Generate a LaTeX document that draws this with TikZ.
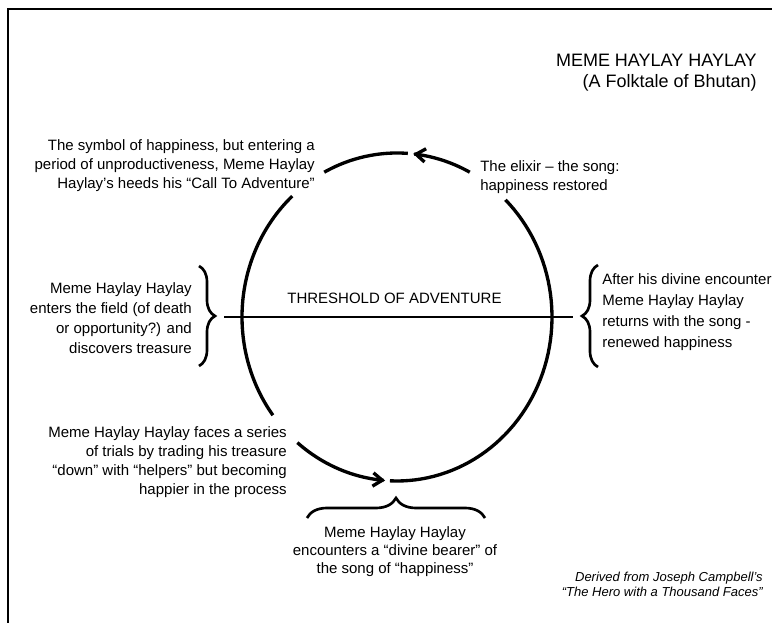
\documentclass[tikz,border=0pt]{standalone}
\usepackage{fontspec}
\setmainfont{Liberation Sans}
\usetikzlibrary{arrows.meta,decorations.pathreplacing}
\def\ringarc[#1](#2:#3){\draw[#1] plot[domain=#2:#3, samples=60] ({397+155*cos(\x)},{317+164*sin(\x)});}

\begin{document}
\begin{tikzpicture}[x=0.75pt, y=-0.75pt,
	txt/.style={inner sep=0pt, font=\fontsize{11.25}{14.4}\selectfont},
	ring/.style={line width=2.5pt},
	barb/.style={ring, {Straight Barb[length=7pt,width=10pt]}-},
	bracket/.style={line width=2pt, decorate, decoration={brace, amplitude=#1}}]
		%%%%% START %%%%%
		
		\useasboundingbox (0,0) rectangle (772,623);
		\clip (0,0) rectangle (772,623);
		\draw[line width=1.4pt] (8,9) rectangle (800,660);
		
		\node[txt, font=\fontsize{13.5}{15.75}\selectfont, align=right, anchor=north east] (title) at (757,54) {MEME HAYLAY HAYLAY\\(A Folktale of Bhutan)};
		
		% the round of the adventure
		\ringarc[ring](-45.6:92.6)
		\ringarc[barb](-84:-62)
		\ringarc[ring](-118:-86)
		\ringarc[ring](143.2:227.5)
		\ringarc[barb](94.4:130)
		
		\coordinate (thL) at (224,317);
		\coordinate (thR) at (573,317);
		\draw[line width=2pt] (thL) -- (thR);
		\node[txt] (threshold) at (394.5,298) {THRESHOLD OF ADVENTURE};
		
		\draw[bracket=12pt] (199,266) -- (199,366);
		\draw[bracket=12pt] (598,367) -- (598,265);
		\draw[bracket=15pt] (307,518) -- (485,518);
		
		\node[txt, align=right, anchor=north east] (call) at (315,139) {The symbol of happiness, but entering a\\period of unproductiveness, Meme Haylay\\Haylay’s heeds his “Call To Adventure”};
		\node[txt, align=left, anchor=north west] (elixir) at (480,160) {The elixir – the song:\\happiness restored};
		\node[txt, align=right, anchor=north east, font=\fontsize{11.25}{15}\selectfont] (field) at (192,282) {Meme Haylay Haylay\\enters the field (of death\\or opportunity?) and\\discovers treasure};
		\node[txt, align=left, anchor=north west, font=\fontsize{11.25}{15.8}\selectfont] (return) at (602,273) {After his divine encounter\\Meme Haylay Haylay\\returns with the song -\\renewed happiness};
		\node[txt, align=right, anchor=north east] (trials) at (287,426) {Meme Haylay Haylay faces a series\\of trials by trading his treasure\\“down” with “helpers” but becoming\\happier in the process};
		\node[txt, align=center, anchor=north, font=\fontsize{11.25}{13.8}\selectfont] (bearer) at (395,526) {Meme Haylay Haylay\\encounters a “divine bearer” of\\the song of “happiness”};
		\node[txt, align=right, anchor=north east, font=\fontsize{9.75}{11.25}\selectfont\itshape] (credit) at (763,572) {Derived from Joseph Campbell’s\\“The Hero with a Thousand Faces”};
		
		%%%%% END %%%%%
\end{tikzpicture}
\end{document}
